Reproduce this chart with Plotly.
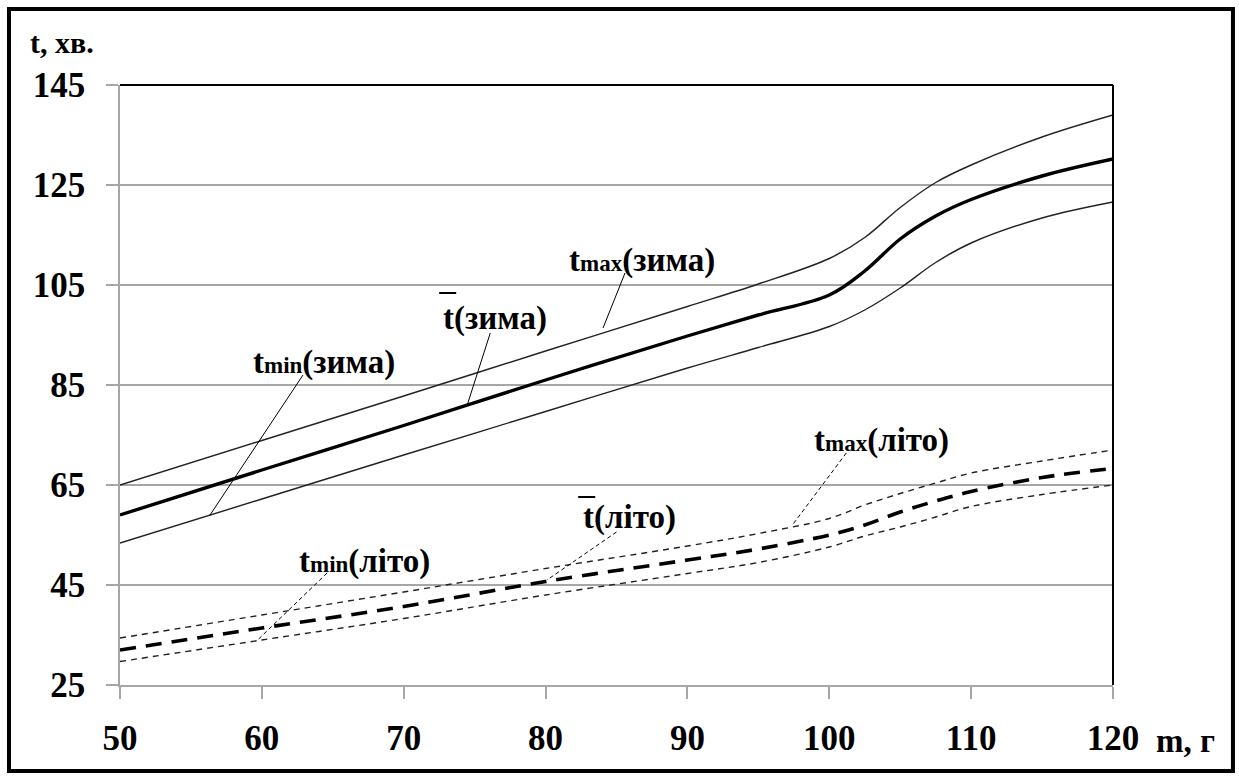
import plotly.graph_objects as go

# mass of sample, g
m = [50, 60, 70, 80, 90, 95, 100, 102.5, 105, 107.5, 110, 115, 120]

# winter: mean, max and min time, min
winter_mean = [59, 68, 76.9, 86, 94.8, 99.0, 103.0, 107.8, 114.2, 118.8, 122.1, 126.8, 130.2]
winter_max = [65, 73.9, 82.8, 91.8, 100.7, 105.2, 110.3, 114.5, 120.5, 125.5, 129, 134.6, 139]
winter_min = [53.4, 62.2, 71, 79.7, 88.4, 92.5, 96.7, 100, 104.4, 109.5, 113.4, 118.4, 121.6]

# summer: mean, max and min time, min
summer_mean = [32, 36.4, 40.7, 45.7, 50, 52.2, 55, 57, 59.6, 61.8, 63.7, 66.5, 68.3]
summer_max = [34.4, 39, 43.6, 48.3, 52.8, 55.3, 58.3, 61, 63.3, 65.4, 67.4, 69.8, 72]
summer_min = [29.7, 34, 38.3, 43, 47.3, 49.5, 52.6, 54.8, 56.6, 58.6, 60.7, 63.1, 65]

x_ticks = [50, 60, 70, 80, 90, 100, 110, 120]
y_ticks = [25, 45, 65, 85, 105, 125, 145]

FONT = "Times New Roman, Liberation Serif, serif"
GRID = "#a6a6a6"
SUB = "<span style='font-size:23px'>{}</span>"

def bold(s):
    return "<b>" + s + "</b>"

fig = go.Figure()

def curve(y, width, dash="solid", color="black"):
    fig.add_trace(go.Scatter(
        x=m, y=y, mode="lines",
        line=dict(color=color, width=width, dash=dash, shape="spline", smoothing=1.0),
        hoverinfo="skip", showlegend=False,
    ))

curve(winter_max, 1.4, color="#222222")
curve(winter_min, 1.4, color="#222222")
curve(winter_mean, 3.4)
curve(summer_max, 1.4, dash="6px,5px", color="#222222")
curve(summer_min, 1.4, dash="6px,5px", color="#222222")
curve(summer_mean, 3.6, dash="16px,10px")

# curve labels (left edge, vertical centre)
labels = [
    ("t" + SUB.format("max") + "(зима)", 81.5, 110.0),
    ("t(зима)", 72.6, 98.4),
    ("t" + SUB.format("min") + "(зима)", 59.2, 89.6),
    ("t" + SUB.format("max") + "(літо)", 98.8, 74.0),
    ("t(літо)", 82.5, 58.6),
    ("t" + SUB.format("min") + "(літо)", 62.5, 49.8),
]
for text, lx, ly in labels:
    fig.add_annotation(x=lx, y=ly, text=bold(text), showarrow=False,
                       xanchor="left", yanchor="middle",
                       font=dict(family=FONT, size=33, color="black"))

# overbars marking the mean
for x0, x1, yb in [(72.5, 73.7, 103.4), (82.3, 83.5, 62.6)]:
    fig.add_shape(type="line", x0=x0, x1=x1, y0=yb, y1=yb, xref="x", yref="y",
                  line=dict(color="black", width=2))

# leader lines from labels to curves
leaders = [
    (85.6, 107.4, 84.05, 96.4, "solid"),
    (76.1, 95.4, 74.5, 81.2, "solid"),
    (62.9, 87.0, 56.3, 58.8, "solid"),
    (101.2, 71.4, 97.4, 57.0, "4px,3px"),
    (85.0, 55.6, 80.1, 46.0, "4px,3px"),
    (64.6, 47.4, 59.7, 34.0, "4px,3px"),
]
for x0, y0, x1, y1, d in leaders:
    fig.add_shape(type="line", x0=x0, y0=y0, x1=x1, y1=y1, xref="x", yref="y",
                  line=dict(color="black", width=1, dash=d))

# black top and right edges of the plot area
fig.add_shape(type="line", xref="paper", yref="paper", x0=0, x1=1, y0=1, y1=1,
              line=dict(color="black", width=2))
fig.add_shape(type="line", xref="paper", yref="paper", x0=1, x1=1, y0=0, y1=1,
              line=dict(color="black", width=2))

# outer frame
fig.add_shape(type="rect", xref="paper", yref="paper",
              x0=-0.1118, x1=1.1208, y0=-0.1433, y1=1.1267,
              line=dict(color="black", width=4))

# axis titles
fig.add_annotation(xref="paper", yref="paper", x=-0.093, y=1.07, text=bold("t, хв."),
                   showarrow=False, xanchor="left", yanchor="middle",
                   font=dict(family=FONT, size=30, color="black"))
fig.add_annotation(xref="paper", yref="paper", x=1.0415, y=-0.093, text=bold("m, г"),
                   showarrow=False, xanchor="left", yanchor="middle",
                   font=dict(family=FONT, size=33, color="black"))

fig.update_xaxes(
    range=[50, 120], tickvals=x_ticks, ticktext=[bold(str(v)) for v in x_ticks],
    showgrid=False, zeroline=False, showline=True, linecolor=GRID, linewidth=1.5,
    ticks="outside", ticklen=12, tickwidth=1.5, tickcolor=GRID,
    tickfont=dict(family=FONT, size=35, color="black"),
    ticklabelstandoff=9,
)
fig.update_yaxes(
    range=[25, 145], tickvals=y_ticks, ticktext=[bold(str(v)) for v in y_ticks],
    showgrid=True, gridcolor=GRID, gridwidth=1.5, zeroline=False,
    showline=True, linecolor=GRID, linewidth=1.5,
    ticks="outside", ticklen=12, tickwidth=1.5, tickcolor=GRID,
    tickfont=dict(family=FONT, size=35, color="black"),
    ticklabelstandoff=14,
)

fig.update_layout(
    width=1239, height=776,
    margin=dict(l=120, r=126, t=85, b=91),
    paper_bgcolor="white", plot_bgcolor="white",
    showlegend=False,
)

fig.write_html("out.html", config={"displayModeBar": False})
